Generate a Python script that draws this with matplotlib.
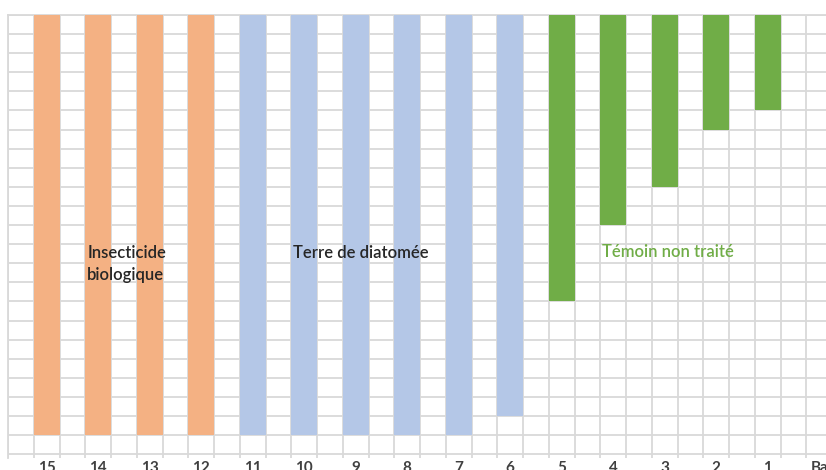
import matplotlib.pyplot as plt
import numpy as np

# Category labels, left to right (the last one is cut off by the frame)
labels = ["15", "14", "13", "12", "11", "10", "9", "8", "7", "6",
          "5", "4", "3", "2", "1", "Ba"]

# Bar values per group (value axis is reversed: bars hang from the top)
insecticide = [22, 22, 22, 22]          # 15, 14, 13, 12
diatomee = [22, 22, 22, 22, 22, 21]     # 11 .. 6
temoin = [15, 11, 9, 6, 5]              # 5 .. 1

values = insecticide + diatomee + temoin
colors = (["#F4B183"] * len(insecticide)
          + ["#B4C7E7"] * len(diatomee)
          + ["#70AD47"] * len(temoin))

grid_color = "#D9D9D9"

fig = plt.figure(figsize=(8.26, 4.70), dpi=100)
W, H = 826, 470
ax = fig.add_axes([8 / W, (H - 458) / H, (W - 8) / W, (458 - 15) / H])

x = np.arange(len(values))
ax.bar(x, values, width=0.5, color=colors, zorder=3)

ax.set_xlim(-0.75, 15.13)
ax.set_ylim(23.2, 0)

# grid: horizontal every unit, vertical lines at bar edges
for yv in range(0, 24):
    ax.axhline(yv, color=grid_color, lw=1.3, zorder=1)
for k in range(-1, 17):
    for off in (-0.25, 0.25):
        ax.axvline(k + off, color=grid_color, lw=1.3, zorder=1)

ax.set_xticks(np.arange(len(labels)))
ax.set_xticklabels(labels, fontfamily="Lato", fontsize=11, fontweight="bold",
                   color="#404040")
ax.tick_params(axis="x", length=0, pad=2)
ax.set_yticks([])

for side in ["top", "left"]:
    ax.spines[side].set_color(grid_color)
    ax.spines[side].set_linewidth(1.3)
for side in ["right", "bottom"]:
    ax.spines[side].set_visible(False)

# group annotations
txt = dict(fontfamily="Lato", fontsize=12, fontweight="semibold", zorder=4)
ax.text(0.79, 13.05, "Insecticide\nbiologique", ha="left", va="center",
        color="#262626", linespacing=1.5, **txt)
ax.text(4.78, 12.45, "Terre de diatomée", ha="left", va="center",
        color="#262626", **txt)
ax.text(10.78, 12.4, "Témoin non traité", ha="left", va="center",
        color="#70AD47", **txt)

fig.savefig("out.png", dpi=100)
